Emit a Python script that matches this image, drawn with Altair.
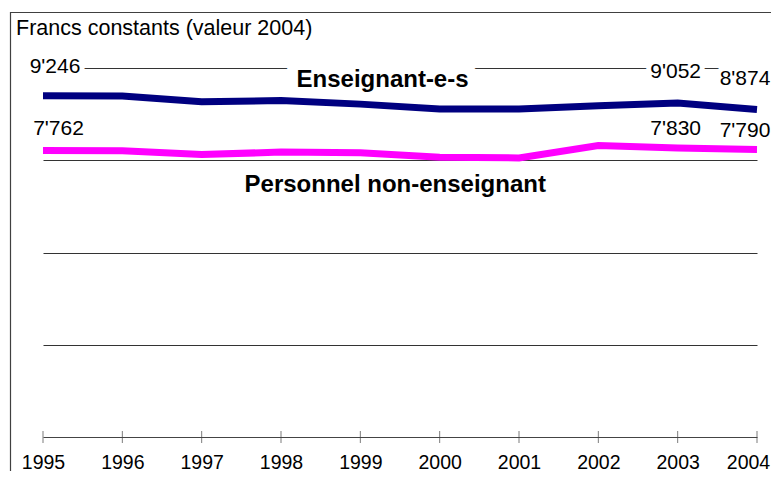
import altair as alt
import pandas as pd

# ---- data ----
years = [1995, 1996, 1997, 1998, 1999, 2000, 2001, 2002, 2003, 2004]
enseignants = [9246, 9240, 9083, 9116, 9021, 8886, 8886, 8975, 9052, 8874]
personnel = [7762, 7760, 7654, 7721, 7700, 7580, 7564, 7897, 7830, 7790]
series_names = ["Enseignant-e-s", "Personnel non-enseignant"]
series_colors = ["#000080", "#FF00FF"]
start_years = [1995]
mid_years = [2003]
last_years = [2004]
y_grid = [2500, 5000, 7500, 10000]
title_text = "Francs constants (valeur 2004)"

FONT = "Liberation Sans"
W, H = 714, 369

rows = []
for name, vals in zip(series_names, [enseignants, personnel]):
    for yr, v in zip(years, vals):
        rows.append({"year": yr, "value": v, "series": name,
                     "label": f"{v:,}".replace(",", "'")})
df = pd.DataFrame(rows)

xs = alt.Scale(domain=[years[0], years[-1]], nice=False, zero=False)
ys = alt.Scale(domain=[0, 10000], nice=False)

x_axis = alt.Axis(values=years, format="d", title=None, grid=False, ticks=False,
                  tickSize=0, domain=True, domainColor="#444444", domainWidth=1,
                  labelFont=FONT, labelFontSize=19.5, labelColor="black",
                  labelPadding=31, labelBaseline="alphabetic", labelFlush=False,
                  labelOverlap=False, labelAngle=0,
                  labelOffset=alt.expr(f"datum.value == {years[-1]} ? -9 : 0"))
y_axis = alt.Axis(values=y_grid, grid=True, gridColor="#333333", gridWidth=1,
                  domain=False, ticks=False, labels=False, title=None)

x_enc = alt.X("year:Q", scale=xs, axis=x_axis)
y_enc = alt.Y("value:Q", scale=ys, axis=y_axis)

base = alt.Chart(df)

frame = alt.Chart(pd.DataFrame({"k": [0]})).mark_rect(
    fillOpacity=0, stroke="#404040", strokeWidth=1.2
).encode(x=alt.value(-32.5), x2=alt.value(W + 100),
         y=alt.value(-55.5), y2=alt.value(H + 100))

title = alt.Chart(pd.DataFrame({"t": [title_text]})).mark_text(
    align="left", baseline="alphabetic", font=FONT, fontSize=21.5, color="black"
).encode(x=alt.value(-27), y=alt.value(-33), text="t:N")


def value_labels(series, yrs, dx, dy, halo=False):
    c = base.transform_filter(
        alt.FieldEqualPredicate(field="series", equal=series)
    ).transform_filter(alt.FieldOneOfPredicate(field="year", oneOf=yrs))
    props = dict(font=FONT, fontSize=21, align="center", baseline="alphabetic",
                 dx=dx, dy=dy)
    if halo:
        props.update(fill="white", stroke="white", strokeWidth=10, strokeJoin="round")
    else:
        props.update(fill="black")
    return c.mark_text(**props).encode(x=x_enc, y=y_enc, text="label:N")


def series_label(i, xd, yd, halo=False):
    props = dict(font=FONT, fontSize=24, fontWeight="bold", align="center",
                 baseline="alphabetic")
    if halo:
        props.update(fill="white", stroke="white", strokeWidth=22, strokeJoin="round")
    else:
        props.update(fill="black")
    return alt.Chart(pd.DataFrame({"t": [series_names[i]]})).mark_text(**props).encode(
        x=alt.X(datum=xd, scale=xs, axis=x_axis),
        y=alt.Y(datum=yd, scale=ys, axis=y_axis), text="t:N")


lines = base.mark_line(strokeWidth=7).encode(
    x=x_enc, y=y_enc,
    color=alt.Color("series:N", scale=alt.Scale(domain=series_names, range=series_colors),
                    legend=None),
)

ticks = alt.Chart(pd.DataFrame({"year": years})).mark_tick(
    orient="vertical", size=12, thickness=1, color="#444444"
).encode(x=x_enc, y=alt.Y(datum=0, scale=ys, axis=y_axis))

chart = alt.layer(
    frame,
    title,
    value_labels(series_names[0], start_years, 12, -23, halo=True),
    value_labels(series_names[0], mid_years, -2, -24.5, halo=True),
    value_labels(series_names[0], last_years, -12, -24.5, halo=True),
    series_label(0, 1999.28, 9485, halo=True),
    lines,
    ticks,
    value_labels(series_names[0], start_years, 12, -23),
    value_labels(series_names[0], mid_years, -2, -24.5),
    value_labels(series_names[0], last_years, -12, -24.5),
    value_labels(series_names[1], start_years, 15.5, -15.5),
    value_labels(series_names[1], mid_years, -2, -13),
    value_labels(series_names[1], last_years, -12, -13),
    series_label(0, 1999.28, 9485),
    series_label(1, 1999.44, 6640),
).properties(
    width=W, height=H,
    padding={"left": 35, "top": 60, "right": 14, "bottom": 34},
    autosize=alt.AutoSizeParams(type="none"),
    background="white",
).configure_view(strokeWidth=0)

chart.save("out.html", embed_options={"renderer": "svg", "actions": False})
